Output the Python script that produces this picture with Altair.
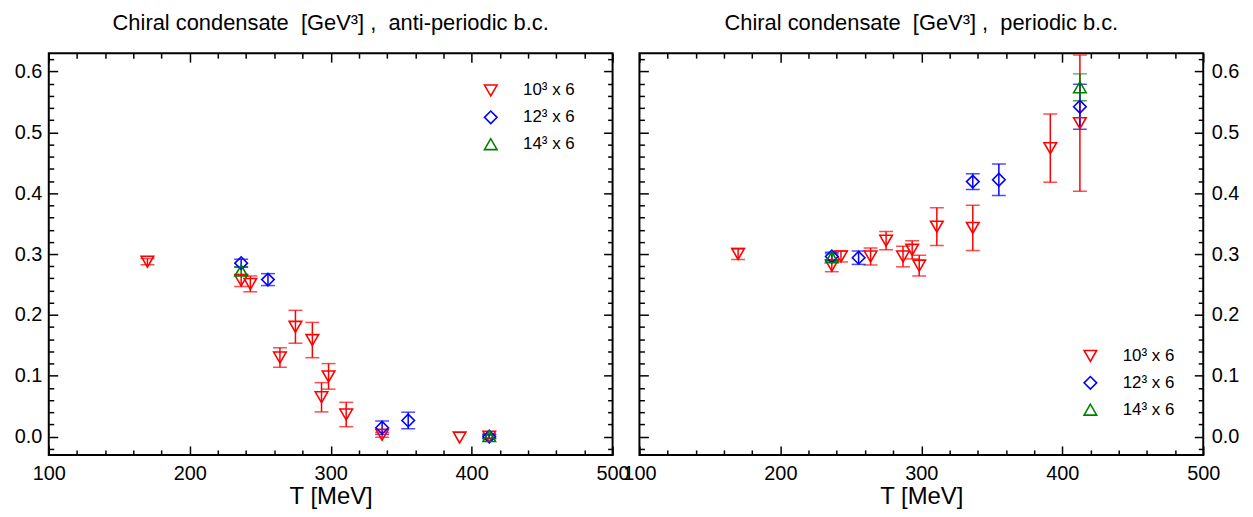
import altair as alt
import pandas as pd

FONT = "Liberation Sans"

SERIES = ["10³ x 6", "12³ x 6", "14³ x 6"]
COLORS = ["#ff0000", "#0000ff", "#008000"]
SHAPES = ["triangle-down", "diamond", "triangle-up"]

# Left panel: anti-periodic b.c.
ap_red_T = [170, 236.5, 243, 264, 275, 287, 293.5, 298.5, 311, 336.5, 391.5, 412.5]
ap_red_v = [0.2875, 0.2565, 0.251, 0.130, 0.1805, 0.1587, 0.0647, 0.099, 0.0364, 0.003, -0.0015, 0.0]
ap_red_e = [0.005, 0.010, 0.013, 0.016, 0.027, 0.029, 0.024, 0.021, 0.020, 0.004, 0.0, 0.003]
ap_blue_T = [236.5, 255.5, 336.5, 355, 412.5]
ap_blue_v = [0.285, 0.258, 0.0147, 0.0266, 0.0]
ap_blue_e = [0.0065, 0.0098, 0.011, 0.0136, 0.003]
ap_green_T = [236.5, 412.5]
ap_green_v = [0.2728, 0.001]
ap_green_e = [0.0065, 0.004]

# Right panel: periodic b.c.
p_red_T = [170, 236.5, 243, 264, 275, 287, 293.5, 298.5, 311, 336.5, 391.5, 412.5]
p_red_v = [0.300, 0.281, 0.296, 0.296, 0.322, 0.296, 0.307, 0.281, 0.345, 0.343, 0.474, 0.515]
p_red_e = [0.009, 0.010, 0.009, 0.014, 0.015, 0.017, 0.015, 0.017, 0.031, 0.037, 0.056, 0.112]
p_blue_T = [236.5, 255.5, 336.5, 355, 412.5]
p_blue_v = [0.296, 0.294, 0.419, 0.422, 0.542]
p_blue_e = [0.007, 0.011, 0.013, 0.026, 0.037]
p_green_T = [236.5, 412.5]
p_green_v = [0.2946, 0.574]
p_green_e = [0.006, 0.022]

X_MAJOR = [100, 200, 300, 400, 500]
X_MINOR = [120, 140, 160, 180, 220, 240, 260, 280, 320, 340, 360, 380, 420, 440, 460, 480]
Y_MAJOR = [0.0, 0.1, 0.2, 0.3, 0.4, 0.5, 0.6]
Y_MINOR = [-0.02, 0.02, 0.04, 0.06, 0.08, 0.12, 0.14, 0.16, 0.18, 0.22, 0.24, 0.26, 0.28,
           0.32, 0.34, 0.36, 0.38, 0.42, 0.44, 0.46, 0.48, 0.52, 0.54, 0.56, 0.58, 0.62]

W, H = 567, 404


def make_df(groups):
    rows = []
    for name, (T, v, e) in zip(SERIES, groups):
        for t, vv, ee in zip(T, v, e):
            rows.append(dict(T=t, v=vv, e=ee, lo=vv - ee, hi=vv + ee, series=name))
    return pd.DataFrame(rows)


def axis_common(**kw):
    d = dict(domain=False, grid=False, tickColor="black", tickWidth=1.5,
             labelColor="black", labelFont=FONT, labelFontSize=20,
             labelFlush=False, labelOverlap=False)
    d.update(kw)
    return alt.Axis(**d)


def panel(groups, title, legend_x, legend_y, y_right):
    df = make_df(groups)
    base = alt.Chart(df)
    xs = alt.Scale(domain=[100, 500], nice=False, zero=False)
    ys = alt.Scale(domain=[-0.03, 0.63], nice=False, zero=False)
    cscale = alt.Scale(domain=SERIES, range=COLORS)
    sscale = alt.Scale(domain=SERIES, range=SHAPES)

    def axl(xaxis, yaxis):
        return base.mark_point(opacity=0).encode(
            x=alt.X("T:Q", scale=xs, axis=xaxis),
            y=alt.Y("v:Q", scale=ys, axis=yaxis),
        )

    bottom_major = axis_common(orient="bottom", values=X_MAJOR, tickSize=9, offset=-9,
                               format="d", labelPadding=9, title="T [MeV]",
                               titleFont=FONT, titleFontSize=24, titleFontWeight="normal",
                               titleColor="black", titlePadding=1)
    bottom_minor = axis_common(orient="bottom", values=X_MINOR, tickSize=5, offset=-5,
                               labels=False, title=None)
    top_major = axis_common(orient="top", values=X_MAJOR, tickSize=9, offset=-9,
                            labels=False, title=None)
    top_minor = axis_common(orient="top", values=X_MINOR, tickSize=5, offset=-5,
                            labels=False, title=None)
    left_major = axis_common(orient="left", values=Y_MAJOR, tickSize=9, offset=-9,
                             labels=not y_right, format=".1f", labelPadding=7, title=None)
    left_minor = axis_common(orient="left", values=Y_MINOR, tickSize=5, offset=-5,
                             labels=False, title=None)
    right_major = axis_common(orient="right", values=Y_MAJOR, tickSize=9, offset=-9,
                              labels=y_right, format=".1f", labelPadding=8, title=None)
    right_minor = axis_common(orient="right", values=Y_MINOR, tickSize=5, offset=-5,
                              labels=False, title=None)

    a1 = axl(bottom_major, left_major)
    a2 = axl(bottom_minor, left_minor)
    a3 = axl(top_major, right_major)
    a4 = axl(top_minor, right_minor)

    leg = alt.Legend(title=None, orient="none", legendX=legend_x, legendY=legend_y,
                     labelFont=FONT, labelFontSize=17, labelColor="black",
                     symbolSize=160, symbolStrokeWidth=1.6, rowPadding=7,
                     labelOffset=24)

    x = alt.X("T:Q", scale=xs, axis=None)
    ecolor = alt.Color("series:N", scale=cscale, legend=None)

    bars = base.mark_rule(strokeWidth=1.5, clip=True).encode(
        x=x, y=alt.Y("lo:Q", scale=ys, axis=None), y2="hi:Q", color=ecolor
    ).transform_filter("datum.e > 0")
    caps_lo = base.mark_tick(orient="horizontal", size=14, thickness=1.5, clip=True).encode(
        x=x, y=alt.Y("lo:Q", scale=ys, axis=None), color=ecolor
    ).transform_filter("datum.e > 0")
    caps_hi = base.mark_tick(orient="horizontal", size=14, thickness=1.5, clip=True).encode(
        x=x, y=alt.Y("hi:Q", scale=ys, axis=None), color=ecolor
    ).transform_filter("datum.e > 0")

    pts = base.mark_point(filled=False, size=160, strokeWidth=1.6, opacity=1).encode(
        x=x, y=alt.Y("v:Q", scale=ys, axis=None),
        color=alt.Color("series:N", scale=cscale, legend=leg),
        shape=alt.Shape("series:N", scale=sscale, legend=leg),
    )

    return alt.layer(a1, a2, a3, a4, bars, caps_lo, caps_hi, pts).resolve_axis(
        x="independent", y="independent"
    ).resolve_scale(color="independent", shape="independent").properties(
        width=W, height=H,
        title=alt.TitleParams(title, font=FONT, fontSize=22, fontWeight="normal",
                              color="black", anchor="middle", offset=18),
    )


left = panel([(ap_red_T, ap_red_v, ap_red_e), (ap_blue_T, ap_blue_v, ap_blue_e),
              (ap_green_T, ap_green_v, ap_green_e)],
             "Chiral condensate\u00a0 [GeV³] ,\u00a0 anti-periodic b.c.", 436, 29, False)
right = panel([(p_red_T, p_red_v, p_red_e), (p_blue_T, p_blue_v, p_blue_e),
               (p_green_T, p_green_v, p_green_e)],
              "Chiral condensate\u00a0 [GeV³] ,\u00a0 periodic b.c.", 445, 296, True)

chart = alt.hconcat(left, right, spacing=27, bounds="flush").resolve_scale(
    color="independent", shape="independent"
).configure_view(stroke="black", strokeWidth=2).properties(
    padding={"left": 5, "top": 1, "right": 5, "bottom": 5}, background="white"
)

chart.save("out.html", embed_options={"renderer": "svg", "actions": False})
